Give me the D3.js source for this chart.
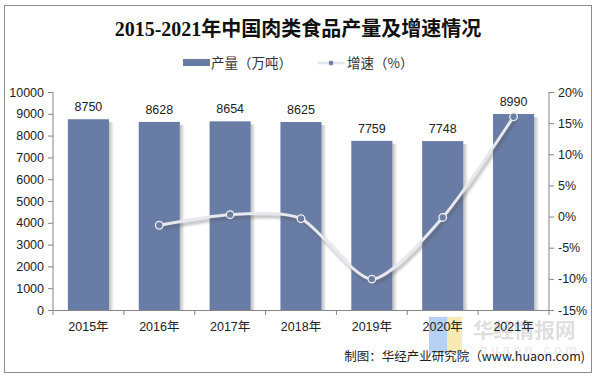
<!DOCTYPE html>
<html>
<head>
<meta charset="utf-8">
<script src="https://cdn.jsdelivr.net/npm/d3@7"></script>
<style>
  body { margin: 0; background: #fff; }
  svg { display: block; font-family: "Liberation Sans", Arial, sans-serif; }
</style>
</head>
<body>
<div id="chart"></div>
<script>
// <-- data -->
var years = ["2015年", "2016年", "2017年", "2018年", "2019年", "2020年", "2021年"];
var output = [8750, 8628, 8654, 8625, 7759, 7748, 8990];
var growth = [null, -1.39, 0.30, -0.34, -10.04, -0.14, 16.03];
var leftTicks = [0, 1000, 2000, 3000, 4000, 5000, 6000, 7000, 8000, 9000, 10000];
var rightTicks = [-15, -10, -5, 0, 5, 10, 15, 20];

;(function(){
  var width = 599, height = 378;
  var m = {left: 53, right: 50, top: 92, bottom: 68};
  var barColor = "#687ca5";

  var svg = d3.select("#chart").append("svg")
              .attr("width", width)
              .attr("height", height);

  var defs = svg.append("defs");
  var sh = defs.append("linearGradient").attr("id", "shadow");
  sh.append("stop").attr("offset", "0%").attr("stop-color", "#888").attr("stop-opacity", 0.55);
  sh.append("stop").attr("offset", "100%").attr("stop-color", "#888").attr("stop-opacity", 0);
  var blur = defs.append("filter").attr("id", "blur").attr("x", "-20%").attr("y", "-50%")
                 .attr("width", "140%").attr("height", "200%");
  blur.append("feGaussianBlur").attr("stdDeviation", 1.6);

  // frame
  svg.append("rect")
     .attr("x", 4.5).attr("y", 5.5)
     .attr("width", 587).attr("height", 367)
     .attr("fill", "none").attr("stroke", "#8c8c8c");

  var x = d3.scaleBand()
            .domain(years)
            .range([m.left, width - m.right])
            .paddingInner(0.42).paddingOuter(0.21);
  var y = d3.scaleLinear().domain([0, 10000]).range([height - m.bottom, m.top]);
  var y2 = d3.scaleLinear().domain([-15, 20]).range([height - m.bottom, m.top]);

  // title
  svg.append("text")
     .attr("x", 298).attr("y", 36)
     .attr("text-anchor", "middle")
     .style("font-family", "'Liberation Serif', 'Noto Sans CJK SC', serif")
     .style("font-size", "20px").style("font-weight", "bold")
     .attr("fill", "#111")
     .text("2015-2021年中国肉类食品产量及增速情况");

  // legend
  var lg = svg.append("g").style("font-family", "'Noto Sans CJK SC', sans-serif")
              .style("font-size", "13.5px").attr("fill", "#333");
  lg.append("rect").attr("x", 183).attr("y", 59).attr("width", 27).attr("height", 7).attr("fill", barColor);
  lg.append("text").attr("x", 211).attr("y", 68).text("产量（万吨）");
  lg.append("line").attr("x1", 318).attr("x2", 345).attr("y1", 63).attr("y2", 63)
    .attr("stroke", "#e2e4ea").attr("stroke-width", 2.5);
  lg.append("circle").attr("cx", 331).attr("cy", 63).attr("r", 2.8)
    .attr("fill", "#6f7f9e").attr("stroke", "#e8eaf0");
  lg.append("text").attr("x", 347).attr("y", 68).text("增速（%）");

  // bar shadows
  svg.append("g").selectAll("rect")
     .data(output).enter().append("rect")
     .attr("x", function(d, i){ return x(years[i]) + x.bandwidth(); })
     .attr("y", function(d){ return y(d) + 3; })
     .attr("width", 5)
     .attr("height", function(d){ return y(0) - y(d) - 3; })
     .attr("fill", "url(#shadow)");

  // bars
  svg.append("g").selectAll("rect")
     .data(output).enter().append("rect")
     .attr("x", function(d, i){ return x(years[i]); })
     .attr("y", function(d){ return y(d); })
     .attr("width", x.bandwidth())
     .attr("height", function(d){ return y(0) - y(d); })
     .attr("fill", barColor);

  // bar labels
  svg.append("g").selectAll("text")
     .data(output).enter().append("text")
     .attr("x", function(d, i){ return x(years[i]) + x.bandwidth() / 2; })
     .attr("y", function(d){ return y(d) - 8; })
     .attr("text-anchor", "middle")
     .style("font-size", "12.5px").attr("fill", "#222")
     .text(function(d){ return d; });

  // watermark (under the axis labels)
  var wm = svg.append("g");
  wm.append("rect").attr("x", 429).attr("y", 317).attr("width", 18).attr("height", 36)
    .attr("fill", "#a9c9f2").attr("opacity", 0.85);
  wm.append("rect").attr("x", 447).attr("y", 317).attr("width", 15).attr("height", 36)
    .attr("fill", "#f7e6a6").attr("opacity", 0.85);
  wm.append("text").attr("x", 473).attr("y", 338)
    .style("font-family", "'Noto Sans CJK SC', sans-serif").style("font-size", "20.5px")
    .style("font-weight", "bold").attr("fill", "#d4d4d4").attr("opacity", 0.75)
    .text("华经情报网");
  wm.append("text").attr("x", 480).attr("y", 354)
    .style("font-size", "13px").attr("fill", "#e6e6e6").attr("letter-spacing", "4px")
    .text("huaon.com");

  // axes
  var axL = svg.append("g").attr("transform", "translate(" + m.left + ",0)")
               .call(d3.axisLeft(y).tickValues(leftTicks).tickSize(5).tickPadding(4)
                     .tickFormat(d3.format("d")));
  var axR = svg.append("g").attr("transform", "translate(" + (width - m.right) + ",0)")
               .call(d3.axisRight(y2).tickValues(rightTicks).tickSize(5).tickPadding(4)
                     .tickFormat(function(d){ return d + "%"; }));
  var axB = svg.append("g").attr("transform", "translate(0," + y(0) + ")")
               .call(d3.axisBottom(x).tickSize(0).tickPadding(12));
  // category separators
  axB.selectAll(".sep").data(d3.range(years.length + 1)).enter().append("line")
     .attr("class", "sep")
     .attr("x1", function(i){ return m.left + i * x.step(); })
     .attr("x2", function(i){ return m.left + i * x.step(); })
     .attr("y1", 0).attr("y2", 5).attr("stroke", "#868686");

  [axL, axR, axB].forEach(function(ax){
    ax.selectAll("path.domain").attr("stroke", "#868686");
    ax.selectAll(".tick line").attr("stroke", "#868686");
    ax.selectAll("text").style("font-size", "12.5px").attr("fill", "#222")
      .style("font-family", "'Liberation Sans', 'Noto Sans CJK SC', sans-serif");
  });
  axL.select("path.domain").attr("d", "M0," + y(10000) + "V" + y(0));
  axR.select("path.domain").attr("d", "M0," + y2(20) + "V" + y2(-15));

  // growth line
  var pts = growth.map(function(d, i){ return {x: x(years[i]) + x.bandwidth() / 2, v: d}; })
                  .filter(function(p){ return p.v !== null; });
  var line = d3.line()
               .x(function(p){ return p.x; })
               .y(function(p){ return y2(p.v); })
               .curve(d3.curveCardinal.tension(0.25));

  svg.append("path").datum(pts)
     .attr("d", line).attr("transform", "translate(2,3)")
     .attr("fill", "none").attr("stroke", "#555").attr("stroke-opacity", 0.45)
     .attr("stroke-width", 3).attr("filter", "url(#blur)");
  svg.append("path").datum(pts)
     .attr("d", line)
     .attr("fill", "none").attr("stroke", "#e8e9ee").attr("stroke-width", 3);

  svg.append("g").selectAll("circle")
     .data(pts).enter().append("circle")
     .attr("cx", function(p){ return p.x; })
     .attr("cy", function(p){ return y2(p.v); })
     .attr("r", 3.8)
     .attr("fill", "#6d7ea3").attr("stroke", "#eef0f5").attr("stroke-width", 1.3);

  // source
  svg.append("text")
     .attr("x", 585).attr("y", 361)
     .attr("text-anchor", "end")
     .style("font-family", "'Noto Sans CJK SC', sans-serif")
     .style("font-size", "12.5px").attr("fill", "#222")
     .text("制图：华经产业研究院（www.huaon.com)");
})();
</script>
</body>
</html>
